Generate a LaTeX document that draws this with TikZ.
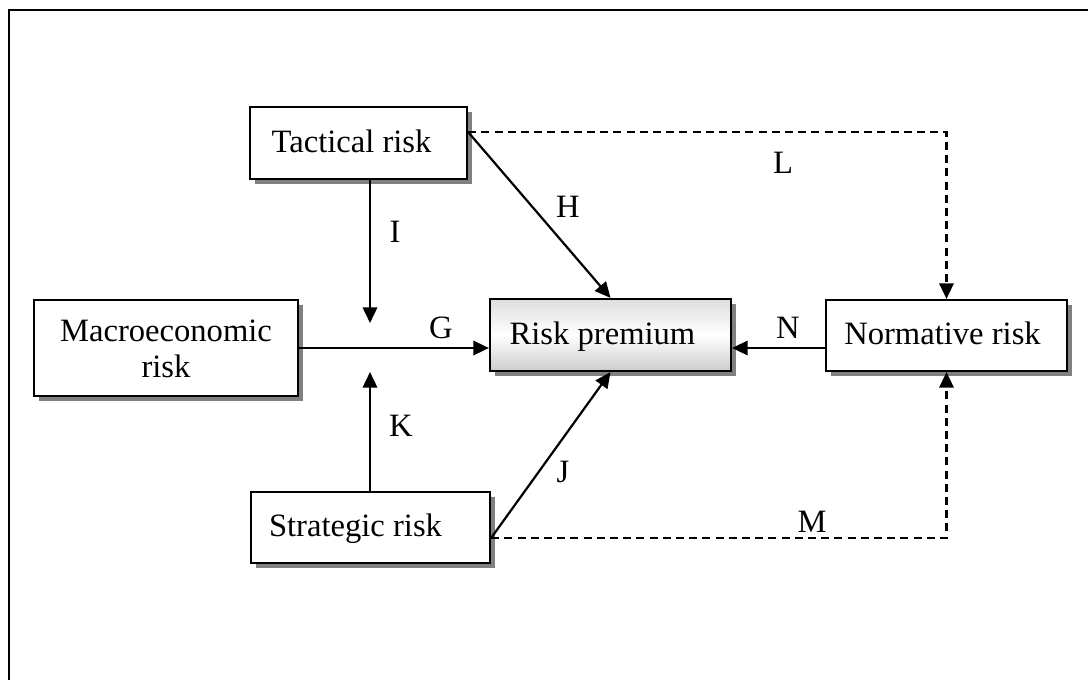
\documentclass[tikz,border=0pt]{standalone}
\usepackage{fontspec}
\setmainfont{Liberation Serif}
\usetikzlibrary{arrows.meta,shadows}
\begin{document}
\begin{tikzpicture}[x=0.5pt,y=-0.5pt,
  font=\fontsize{16.3}{18}\selectfont,
  box/.style={draw=black, line width=1.1pt, fill=white, inner sep=0pt,
    align=center,
    drop shadow={shadow xshift=2.5pt, shadow yshift=-2.5pt, fill=gray, opacity=1}},
  oneline/.style={text height=11pt, text depth=2pt},
  shadedbox/.style={box, top color=black!13, bottom color=black!20, middle color=white},
  link/.style={line width=1.1pt, -{Triangle[length=7.8pt,width=7.2pt]}},
  dlink/.style={link, dash pattern=on 4pt off 2.6pt},
  tag/.style={inner sep=0pt}]
\useasboundingbox (0,0) rectangle (1088,680);

% outer frame
\draw[line width=1.1pt] (9,680) -- (9,10) -- (1088,10);

% boxes
\node[box, oneline, minimum width=108.5pt, minimum height=36pt] (tac) at (358.5,143) {Tactical risk\hspace*{7pt}};
\node[box, minimum width=132pt, minimum height=48pt] (mac) at (166,348) {\rule{0pt}{12pt}Macroeconomic\\risk};
\node[shadedbox, oneline, minimum width=120.5pt, minimum height=36pt] (rp) at (610.5,335) {Risk premium\hspace*{8pt}};
\node[box, oneline, minimum width=120.5pt, minimum height=35.5pt] (nor) at (946.5,335.5) {Normative risk\hspace*{4pt}};
\node[box, oneline, minimum width=119.5pt, minimum height=35.5pt] (str) at (370.5,527.5) {Strategic risk\hspace*{15pt}};

% reference heights and free ends
\coordinate (gy) at (0,348);
\coordinate (hy) at (0,132);
\coordinate (jy) at (0,538);
\coordinate (iend) at (370,323);
\coordinate (kend) at (370,372);

% connectors
\draw[link] (tac.south -| iend) -- (iend);
\draw[link] (str.north -| kend) -- (kend);
\draw[link] (mac.east |- gy) -- (rp.west |- gy);
\draw[link] (nor.west |- gy) -- (rp.east |- gy);
\draw[link] (tac.east |- hy) -- (rp.north);
\draw[link] (str.east |- jy) -- (rp.south);
\draw[dlink] (tac.east |- hy) -| (nor.north);
\draw[dlink] (str.east |- jy) -| (nor.south);

% labels
\node[tag] (lI) at (395,232) {I};
\node[tag] (lG) at (441,328) {G};
\node[tag] (lK) at (401,426) {K};
\node[tag] (lH) at (568,207) {H};
\node[tag] (lJ) at (563,472) {J};
\node[tag] (lL) at (783,163) {L};
\node[tag] (lM) at (812,522) {M};
\node[tag] (lN) at (788,328) {N};
\end{tikzpicture}
\end{document}
